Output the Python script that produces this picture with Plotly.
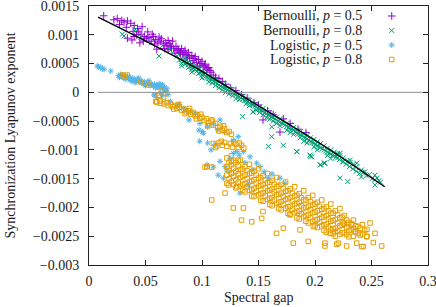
import plotly.graph_objects as go

# ---------------- data ----------------
bern05_points = [
    (0.013, 0.00133), (0.022, 0.00126), (0.025, 0.00128), (0.029, 0.00125), (0.031, 0.00122),
    (0.034, 0.00124), (0.037, 0.00120), (0.040, 0.00116), (0.043, 0.00111), (0.044, 0.00105),
    (0.047, 0.00114), (0.040, 0.00097), (0.034, 0.00094), (0.038, 0.00091), (0.049, 0.00097),
    (0.052, 0.00105), (0.053, 0.00095), (0.056, 0.00101), (0.059, 0.00092), (0.062, 0.00096),
    (0.063, 0.00089), (0.066, 0.00084), (0.068, 0.00086), (0.070, 0.00090), (0.072, 0.00080),
    (0.074, 0.00089), (0.075, 0.00076), (0.077, 0.00080), (0.079, 0.00075), (0.080, 0.00070),
    (0.082, 0.00076), (0.083, 0.00066), (0.085, 0.00073), (0.086, 0.00065), (0.088, 0.00069),
    (0.089, 0.00060), (0.091, 0.00064), (0.092, 0.00055), (0.094, 0.00062), (0.095, 0.00052),
    (0.097, 0.00057), (0.098, 0.00046), (0.100, 0.00054), (0.101, 0.00044), (0.103, 0.00049),
    (0.104, 0.00039), (0.106, 0.00043), (0.108, 0.00035), (0.110, 0.00030), (0.112, 0.00026),
    (0.115, 0.00024), (0.118, 0.00019), (0.121, 0.00014), (0.125, 0.00008), (0.130, 0.00003),
    (0.135, -0.00004), (0.140, -0.00010), (0.146, -0.00018), (0.150, -0.00022), (0.154, -0.00048),
    (0.158, -0.00032), (0.163, -0.00039), (0.169, -0.00069), (0.172, -0.00046), (0.178, -0.00054),
    (0.185, -0.00064), (0.192, -0.00070), (0.048, 0.00089), (0.058, 0.00084), (0.067, 0.00076),
    (0.076, 0.00068), (0.087, 0.00059), (0.060, 0.00075), (0.045, 0.00086), (0.070, 0.00074),
    (0.090, 0.00050), (0.096, 0.00044),
    (0.027, 0.00118), (0.033, 0.00113), (0.039, 0.00106), (0.042, 0.00100), (0.046, 0.00101),
    (0.051, 0.00093), (0.055, 0.00089), (0.057, 0.00097), (0.061, 0.00086), (0.064, 0.00093),
    (0.069, 0.00081), (0.071, 0.00085), (0.073, 0.00077), (0.078, 0.00073), (0.081, 0.00068),
    (0.084, 0.00070), (0.087, 0.00063), (0.093, 0.00059), (0.099, 0.00050), (0.102, 0.00047),
    (0.105, 0.00041), (0.107, 0.00038),
]

bern08_points = [
    (0.0295, 0.00101), (0.031, 0.00098), (0.041, 0.00109), (0.046, 0.00096), (0.055, 0.00086),
    (0.062, 0.00063), (0.065, 0.00081), (0.072, 0.00073), (0.078, 0.00063), (0.080, 0.00056),
    (0.082, 0.00059), (0.082, 0.00050), (0.082, 0.00046), (0.085, 0.00055), (0.085, 0.00049),
    (0.085, 0.00059), (0.088, 0.00048), (0.088, 0.00043), (0.088, 0.00052), (0.091, 0.00046),
    (0.091, 0.00040), (0.091, 0.00035), (0.094, 0.00044), (0.094, 0.00039), (0.094, 0.00048),
    (0.097, 0.00039), (0.097, 0.00033), (0.097, 0.00042), (0.100, 0.00036), (0.100, 0.00030),
    (0.100, 0.00025), (0.103, 0.00033), (0.103, 0.00027), (0.103, 0.00038), (0.106, 0.00029),
    (0.106, 0.00024), (0.106, 0.00018), (0.109, 0.00025), (0.109, 0.00021), (0.109, 0.00016),
    (0.112, 0.00022), (0.112, 0.00017), (0.112, 0.00012), (0.115, 0.00019), (0.115, 0.00013),
    (0.115, 0.00008), (0.118, 0.00014), (0.118, 0.00009), (0.118, 0.00004), (0.121, 0.00011),
    (0.121, 0.00006), (0.121, 0.00000), (0.124, 0.00007), (0.124, 0.00002), (0.124, -0.00003),
    (0.127, 0.00004), (0.127, -0.00001), (0.127, -0.00006), (0.130, 0.00000), (0.130, -0.00004),
    (0.130, -0.00011), (0.133, -0.00003), (0.133, -0.00008), (0.133, -0.00013), (0.136, -0.00007),
    (0.136, -0.00012), (0.136, -0.00042), (0.139, -0.00010), (0.139, -0.00014), (0.139, -0.00020),
    (0.142, -0.00014), (0.142, -0.00019), (0.142, -0.00023), (0.145, -0.00018), (0.145, -0.00022),
    (0.145, -0.00034), (0.148, -0.00021), (0.148, -0.00026), (0.148, -0.00031), (0.151, -0.00025),
    (0.151, -0.00030), (0.151, -0.00035), (0.154, -0.00028), (0.154, -0.00033), (0.154, -0.00039),
    (0.157, -0.00032), (0.157, -0.00037), (0.157, -0.00044), (0.160, -0.00035), (0.160, -0.00041),
    (0.160, -0.00047), (0.163, -0.00039), (0.163, -0.00044), (0.163, -0.00050), (0.166, -0.00043),
    (0.166, -0.00048), (0.166, -0.00054), (0.169, -0.00046), (0.169, -0.00052), (0.169, -0.00058),
    (0.172, -0.00050), (0.172, -0.00055), (0.172, -0.00092), (0.175, -0.00054), (0.175, -0.00059),
    (0.175, -0.00066), (0.178, -0.00057), (0.178, -0.00063), (0.178, -0.00070), (0.181, -0.00061),
    (0.181, -0.00066), (0.181, -0.00073), (0.184, -0.00065), (0.184, -0.00071), (0.184, -0.00103),
    (0.187, -0.00068), (0.187, -0.00074), (0.187, -0.00079), (0.190, -0.00072), (0.190, -0.00078),
    (0.190, -0.00085), (0.193, -0.00075), (0.193, -0.00081), (0.193, -0.00088), (0.196, -0.00079),
    (0.196, -0.00086), (0.196, -0.00111), (0.199, -0.00082), (0.199, -0.00088), (0.199, -0.00095),
    (0.202, -0.00086), (0.202, -0.00093), (0.202, -0.00100), (0.205, -0.00089), (0.205, -0.00096),
    (0.205, -0.00126), (0.208, -0.00093), (0.208, -0.00100), (0.208, -0.00123), (0.211, -0.00097),
    (0.211, -0.00104), (0.211, -0.00110), (0.214, -0.00100), (0.214, -0.00107), (0.214, -0.00115),
    (0.217, -0.00104), (0.217, -0.00110), (0.220, -0.00108), (0.220, -0.00114), (0.220, -0.00106),
    (0.222, -0.00110), (0.222, -0.00149), (0.225, -0.00114), (0.225, -0.00120), (0.229, -0.00119),
    (0.229, -0.00155), (0.231, -0.00122), (0.231, -0.00118), (0.234, -0.00125), (0.237, -0.00129),
    (0.237, -0.00123), (0.241, -0.00135), (0.241, -0.00147), (0.244, -0.00138), (0.248, -0.00143),
    (0.253, -0.00144), (0.253, -0.00152), (0.253, -0.00161), (0.255, -0.00149), (0.258, -0.00156),
    (0.1454, -0.00034), (0.1587, -0.00094), (0.1617, -0.00077), (0.1617, -0.00060), (0.1838, -0.00103),
    (0.1956, -0.00109), (0.1971, -0.00112), (0.2044, -0.00126), (0.2088, -0.00123), (0.2221, -0.00106),
    (0.0835, 0.00054), (0.0865, 0.00051), (0.0895, 0.00045), (0.0925, 0.00042), (0.0955, 0.00037),
    (0.0985, 0.00034), (0.1015, 0.00031), (0.1045, 0.00026), (0.1075, 0.00023), (0.1105, 0.00019),
    (0.1135, 0.00015), (0.1165, 0.00011), (0.1195, 0.00008), (0.1225, 0.00004), (0.1255, 0.00000),
    (0.1285, -0.00003), (0.1315, -0.00007), (0.1345, -0.00010), (0.1375, -0.00014), (0.1405, -0.00017),
    (0.1435, -0.00021), (0.1465, -0.00024), (0.1495, -0.00028), (0.1525, -0.00031), (0.1555, -0.00035),
    (0.1585, -0.00039), (0.1615, -0.00042), (0.1645, -0.00046), (0.1675, -0.00050), (0.1705, -0.00053),
    (0.1735, -0.00057), (0.1765, -0.00061), (0.1795, -0.00064), (0.1825, -0.00068), (0.1855, -0.00072),
    (0.1885, -0.00075), (0.1915, -0.00079), (0.1945, -0.00083), (0.1975, -0.00087), (0.2005, -0.00091),
    (0.2035, -0.00094), (0.2065, -0.00098), (0.2095, -0.00102), (0.2125, -0.00106), (0.2155, -0.00110),
    (0.2185, -0.00113), (0.2215, -0.00117), (0.2245, -0.00121), (0.2275, -0.00125), (0.2305, -0.00129),
    (0.2335, -0.00133), (0.2365, -0.00137), (0.2395, -0.00141), (0.2425, -0.00139), (0.2455, -0.00145),
    (0.2505, -0.00150), (0.2565, -0.00154),
]

logi05_points = [
    (0.0074, 0.000457), (0.0104, 0.000434), (0.0133, 0.00040), (0.0192, 0.00037), (0.0085, 0.00044),
    (0.0118, 0.00041), (0.026, 0.00029), (0.028, 0.00031), (0.030, 0.00027), (0.031, 0.00030),
    (0.033, 0.00025), (0.034, 0.00028), (0.036, 0.00022), (0.037, 0.00026), (0.039, 0.00021),
    (0.040, 0.00024), (0.042, 0.00019), (0.043, 0.00022), (0.045, 0.00018), (0.046, 0.00020),
    (0.048, 0.00015), (0.049, 0.00018), (0.051, 0.00014), (0.052, 0.00017), (0.054, 0.00012),
    (0.055, 0.00015), (0.057, 0.00011), (0.058, 0.00014), (0.060, 0.00009), (0.061, 0.00012),
    (0.063, 0.00008), (0.064, 0.00011), (0.066, 0.00005), (0.067, 0.00009), (0.068, 0.00002),
    (0.069, 0.00006), (0.032, 0.00023), (0.041, 0.00017), (0.050, 0.00012), (0.059, 0.00008),
    (0.044, 0.00025), (0.053, 0.00020), (0.062, 0.00015), (0.065, 0.00013),
    (0.027, 0.00026), (0.029, 0.00029), (0.035, 0.00024), (0.038, 0.00019), (0.047, 0.00016),
    (0.056, 0.00013), (0.0605, 0.00010), (0.0655, 0.00007), (0.0675, 0.00004), (0.0635, 0.00013),
    (0.0575, -0.000047), (0.0634, -0.00002), (0.060, -0.00009), (0.0584, -0.000047), (0.065, -0.00006),
    (0.070, -0.00004), (0.072, -0.00016), (0.078, -0.00024), (0.084, -0.00028), (0.0885, -0.00048),
    (0.094, -0.00036), (0.0974, -0.000655), (0.1003, -0.000684), (0.0982, -0.00054), (0.1012, -0.00071),
    (0.105, -0.00060), (0.110, -0.00055), (0.116, -0.00048), (0.114, -0.00065), (0.120, -0.00069),
    (0.1277, -0.00083), (0.1321, -0.00077), (0.1115, -0.00091), (0.1307, -0.00103), (0.1366, -0.00103),
    (0.1425, -0.00112), (0.116, -0.00120), (0.1219, -0.00135), (0.1144, -0.00144), (0.1189, -0.00149),
    (0.1484, -0.00123), (0.1277, -0.00106), (0.133, -0.00109), (0.1204, -0.00129), (0.1513, -0.00129),
    (0.169, -0.00149), (0.1735, -0.00158), (0.1336, -0.00175), (0.141, -0.00161), (0.1587, -0.00149),
    (0.105, -0.00088), (0.108, -0.00100), (0.125, -0.00115), (0.138, -0.00122), (0.145, -0.00134),
    (0.155, -0.00138), (0.162, -0.00142), (0.098, -0.00085), (0.1045, -0.00126), (0.110, -0.00130),
    (0.090, -0.00034), (0.080, -0.00021), (0.086, -0.00032),
]

logi08_points = [
    (0.0295, 0.00030), (0.0339, 0.00030), (0.031, 0.00027), (0.0457, 0.000184), (0.0531, 0.000127),
    (0.0678, -0.00002), (0.0619, -0.000064), (0.0634, -0.00019), (0.059, -0.00016), (0.064, 0.00002),
    (0.066, -0.00009),
    (0.060, -0.00017), (0.063, -0.00015), (0.066, -0.00020), (0.069, -0.00018), (0.070, -0.00023),
    (0.072, -0.00020), (0.074, -0.00025), (0.076, -0.00023), (0.078, -0.00028), (0.080, -0.00026),
    (0.082, -0.00031), (0.084, -0.00029), (0.086, -0.00034), (0.088, -0.00032), (0.090, -0.00038),
    (0.092, -0.00035), (0.094, -0.00041), (0.096, -0.00039), (0.098, -0.00045), (0.100, -0.00043),
    (0.102, -0.00049), (0.104, -0.00046), (0.106, -0.00053), (0.108, -0.00050), (0.110, -0.00057),
    (0.112, -0.00054), (0.114, -0.00061), (0.116, -0.00059), (0.118, -0.00066), (0.120, -0.00063),
    (0.122, -0.00070), (0.124, -0.00068), (0.126, -0.00073), (0.075, -0.00029), (0.085, -0.00037),
    (0.095, -0.00046), (0.105, -0.00058), (0.115, -0.00067), (0.079, -0.00021), (0.089, -0.00028),
    (0.099, -0.00038), (0.109, -0.00048), (0.119, -0.00058),
    (0.110, -0.00089), (0.113, -0.00093), (0.115, -0.00088), (0.118, -0.00092), (0.120, -0.00087),
    (0.122, -0.00094), (0.125, -0.00089), (0.127, -0.00095), (0.130, -0.00090), (0.132, -0.00096),
    (0.135, -0.00092), (0.137, -0.00097), (0.112, -0.00096), (0.117, -0.00085), (0.128, -0.00086),
    (0.133, -0.00088),
    (0.122, -0.00114), (0.122, -0.00129), (0.122, -0.00144), (0.122, -0.00158),
    (0.126, -0.00126), (0.126, -0.00140), (0.126, -0.00155), (0.126, -0.00110),
    (0.130, -0.00122), (0.130, -0.00137), (0.130, -0.00152), (0.130, -0.00166),
    (0.134, -0.00134), (0.134, -0.00148), (0.134, -0.00163), (0.134, -0.00118),
    (0.138, -0.00129), (0.138, -0.00144), (0.138, -0.00159), (0.138, -0.00173),
    (0.142, -0.00141), (0.142, -0.00155), (0.142, -0.00170), (0.142, -0.00125),
    (0.146, -0.00137), (0.146, -0.00152), (0.146, -0.00167), (0.146, -0.00181),
    (0.150, -0.00149), (0.150, -0.00163), (0.150, -0.00178), (0.150, -0.00133),
    (0.154, -0.00145), (0.154, -0.00160), (0.154, -0.00175), (0.154, -0.00189),
    (0.158, -0.00157), (0.158, -0.00171), (0.158, -0.00186), (0.158, -0.00141),
    (0.162, -0.00153), (0.162, -0.00168), (0.162, -0.00183), (0.162, -0.00197),
    (0.166, -0.00164), (0.166, -0.00178), (0.166, -0.00193), (0.166, -0.00148),
    (0.170, -0.00160), (0.170, -0.00175), (0.170, -0.00190), (0.170, -0.00204),
    (0.174, -0.00172), (0.174, -0.00186), (0.174, -0.00201), (0.174, -0.00156),
    (0.178, -0.00168), (0.178, -0.00183), (0.178, -0.00198), (0.178, -0.00212),
    (0.182, -0.00180), (0.182, -0.00194), (0.182, -0.00209), (0.182, -0.00164),
    (0.186, -0.00176), (0.186, -0.00191), (0.186, -0.00206), (0.186, -0.00220),
    (0.190, -0.00187), (0.190, -0.00201), (0.190, -0.00216), (0.190, -0.00171),
    (0.194, -0.00183), (0.194, -0.00198), (0.194, -0.00213), (0.194, -0.00227),
    (0.198, -0.00195), (0.198, -0.00209), (0.198, -0.00224), (0.198, -0.00179),
    (0.202, -0.00191), (0.202, -0.00206), (0.202, -0.00221), (0.202, -0.00235),
    (0.206, -0.00203), (0.206, -0.00217), (0.206, -0.00232), (0.206, -0.00187),
    (0.210, -0.00199), (0.210, -0.00214), (0.210, -0.00229), (0.210, -0.00243),
    (0.214, -0.00210), (0.214, -0.00224), (0.214, -0.00239), (0.214, -0.00194),
    (0.218, -0.00206), (0.218, -0.00221), (0.218, -0.00236), (0.218, -0.00250),
    (0.222, -0.00218), (0.222, -0.00232), (0.222, -0.00247), (0.222, -0.00202),
    (0.226, -0.00214), (0.226, -0.00229), (0.226, -0.00244),
    (0.230, -0.00226), (0.230, -0.00240), (0.230, -0.00251),
    (0.234, -0.00222), (0.234, -0.00237), (0.234, -0.00250),
    (0.238, -0.00233), (0.238, -0.00245), (0.242, -0.00230), (0.242, -0.00246),
    (0.246, -0.00238), (0.246, -0.00250),
    (0.124, -0.00122), (0.124, -0.00136), (0.124, -0.00150),
    (0.128, -0.00118), (0.128, -0.00132), (0.128, -0.00146), (0.128, -0.00160),
    (0.132, -0.00128), (0.132, -0.00142), (0.132, -0.00156),
    (0.136, -0.00133), (0.136, -0.00146), (0.136, -0.00160), (0.136, -0.00170),
    (0.140, -0.00136), (0.140, -0.00150), (0.140, -0.00164),
    (0.144, -0.00140), (0.144, -0.00154), (0.144, -0.00169), (0.144, -0.00180),
    (0.148, -0.00144), (0.148, -0.00158), (0.148, -0.00172),
    (0.152, -0.00148), (0.152, -0.00162), (0.152, -0.00176), (0.152, -0.00188),
    (0.156, -0.00152), (0.156, -0.00166), (0.156, -0.00180),
    (0.160, -0.00156), (0.160, -0.00170), (0.160, -0.00184), (0.160, -0.00195),
    (0.164, -0.00160), (0.164, -0.00173), (0.164, -0.00187),
    (0.168, -0.00163), (0.168, -0.00177), (0.168, -0.00191), (0.168, -0.00202),
    (0.172, -0.00167), (0.172, -0.00181), (0.172, -0.00195),
    (0.176, -0.00171), (0.176, -0.00185), (0.176, -0.00199), (0.176, -0.00210),
    (0.180, -0.00175), (0.180, -0.00189), (0.180, -0.00203),
    (0.184, -0.00179), (0.184, -0.00193), (0.184, -0.00207), (0.184, -0.00218),
    (0.188, -0.00183), (0.188, -0.00197), (0.188, -0.00211),
    (0.192, -0.00187), (0.192, -0.00200), (0.192, -0.00214), (0.192, -0.00224),
    (0.196, -0.00190), (0.196, -0.00204), (0.196, -0.00218),
    (0.200, -0.00194), (0.200, -0.00208), (0.200, -0.00222), (0.200, -0.00232),
    (0.204, -0.00198), (0.204, -0.00212), (0.204, -0.00226),
    (0.208, -0.00202), (0.208, -0.00216), (0.208, -0.00230), (0.208, -0.00240),
    (0.212, -0.00206), (0.212, -0.00220), (0.212, -0.00234),
    (0.216, -0.00210), (0.216, -0.00223), (0.216, -0.00237), (0.216, -0.00246),
    (0.220, -0.00213), (0.220, -0.00227), (0.220, -0.00241),
    (0.224, -0.00217), (0.224, -0.00231), (0.224, -0.00244),
    (0.228, -0.00222), (0.228, -0.00235), (0.228, -0.00247),
    (0.232, -0.00228), (0.232, -0.00239), (0.236, -0.00232), (0.236, -0.00242),
    (0.240, -0.00236), (0.240, -0.00248), (0.244, -0.00240),
    (0.1042, -0.00129), (0.1086, -0.00187), (0.1204, -0.00175), (0.1277, -0.00201), (0.135, -0.00222),
    (0.144, -0.00225), (0.166, -0.00245), (0.1808, -0.00262), (0.194, -0.00259), (0.2088, -0.00262),
    (0.2088, -0.00267), (0.2192, -0.00264), (0.228, -0.00267), (0.2369, -0.00262), (0.2428, -0.00268),
    (0.2457, -0.00251), (0.2531, -0.00245), (0.2516, -0.00261), (0.259, -0.00267), (0.2325, -0.00230),
    (0.225, -0.00227), (0.2354, -0.00242), (0.2177, -0.00242), (0.2487, -0.00227), (0.2207, -0.00262),
    (0.2413, -0.00268), (0.1027, -0.00130), (0.1086, -0.00130), (0.126, -0.00120), (0.1321, -0.00118),
    (0.1234, -0.00161), (0.1307, -0.00164), (0.126, -0.00141), (0.1366, -0.00201), (0.1528, -0.00219),
    (0.154, -0.00207), (0.1778, -0.00213), (0.172, -0.00236), (0.1867, -0.00239), (0.1985, -0.00233),
    (0.2133, -0.00245),
]

fit_x = [0.008, 0.0502, 0.0981, 0.1304, 0.2042, 0.2617]
fit_y = [0.001307, 0.000891, 0.000387, 0.0, -0.000885, -0.00164]

zero_x = [0.008, 0.3]
zero_y = [0.0, 0.0]

series_names = ["Bernoulli, <i>p</i> = 0.5", "Bernoulli, <i>p</i> = 0.8",
                "Logistic, <i>p</i> = 0.5", "Logistic, <i>p</i> = 0.8"]

x_tick_vals = [0, 0.05, 0.1, 0.15, 0.2, 0.25, 0.3]
x_tick_text = ["0", "0.05", "0.1", "0.15", "0.2", "0.25", "0.3"]
y_tick_vals = [-0.003, -0.0025, -0.002, -0.0015, -0.001, -0.0005, 0, 0.0005, 0.001, 0.0015]
y_tick_text = ["\u22120.003", "\u22120.0025", "\u22120.002", "\u22120.0015", "\u22120.001",
               "\u22120.0005", "0", "0.0005", "0.001", "0.0015"]

# ---------------- styles ----------------
FONT = "Liberation Serif, Times New Roman, serif"
TXT = "#1a1a1a"
FS = 14
styles = [
    dict(color="#9400D3", symbol="cross-thin-open", size=5.5),
    dict(color="#009E73", symbol="x-thin-open", size=5),
    dict(color="#56B4E9", symbol="asterisk-open", size=5),
    dict(color="#E69F00", symbol="square-open", size=4.5),
]
datasets = [bern05_points, bern08_points, logi05_points, logi08_points]
legend_ids = ["legend", "legend2", "legend3", "legend4"]
row_y = [0.9614, 0.9054, 0.8494, 0.7934]

fig = go.Figure()
for pts, st, lg in zip(datasets, styles, legend_ids):
    xs = [p[0] for p in pts]
    ys = [p[1] for p in pts]
    fig.add_trace(go.Scatter(
        x=xs, y=ys, mode="markers", name="", showlegend=True, legend=lg,
        marker=dict(symbol=st["symbol"], size=st["size"], color=st["color"],
                    line=dict(color=st["color"], width=1)),
    ))

fig.add_trace(go.Scatter(x=zero_x, y=zero_y, mode="lines", showlegend=False,
                         line=dict(color="#8c8c8c", width=1)))
fig.add_trace(go.Scatter(x=fit_x, y=fit_y, mode="lines", showlegend=False,
                         line=dict(color="black", width=1.4, shape="spline", smoothing=0.6)))

axis_common = dict(showline=True, linecolor="#222", linewidth=1, mirror="ticks",
                   ticks="inside", ticklen=5, tickcolor="#222", showgrid=False, zeroline=False,
                   ticklabeloverflow="allow",
                   tickfont=dict(family=FONT, size=FS, color=TXT))
fig.update_xaxes(range=[0, 0.3], tickvals=x_tick_vals, ticktext=x_tick_text,
                 ticklabelstandoff=3, **axis_common)
fig.update_yaxes(range=[-0.003, 0.0015], tickvals=y_tick_vals, ticktext=y_tick_text,
                 ticklabelstandoff=6, **axis_common)

legend_layout = {}
for lg, yy in zip(legend_ids, row_y):
    legend_layout[lg] = dict(x=0.834, xanchor="left", y=yy, yanchor="middle",
                             bgcolor="rgba(0,0,0,0)", borderwidth=0,
                             font=dict(family=FONT, size=8), itemwidth=30,
                             tracegroupgap=0)

annotations = []
for name, yy in zip(series_names, row_y):
    annotations.append(dict(text=name, x=0.8103, y=yy, xref="paper", yref="paper",
                            xanchor="right", yanchor="middle", showarrow=False,
                            font=dict(family=FONT, size=FS, color=TXT)))
annotations.append(dict(text="Synchronization Lyapunov exponent", x=-0.233, y=0.5,
                        xref="paper", yref="paper", textangle=-90, showarrow=False,
                        xanchor="center", yanchor="middle",
                        font=dict(family=FONT, size=FS, color=TXT)))
annotations.append(dict(text="Spectral gap", x=0.5, y=-0.1236, xref="paper", yref="paper",
                        showarrow=False, xanchor="center", yanchor="middle",
                        font=dict(family=FONT, size=FS, color=TXT)))

fig.update_layout(
    width=436, height=307,
    margin=dict(l=89, r=8, t=6, b=42, autoexpand=False),
    plot_bgcolor="white", paper_bgcolor="white",
    annotations=annotations,
    **legend_layout,
)

fig.write_html("out.html", config={"displayModeBar": False},
               post_script="document.body.style.margin='0';document.body.style.overflow='hidden';")
